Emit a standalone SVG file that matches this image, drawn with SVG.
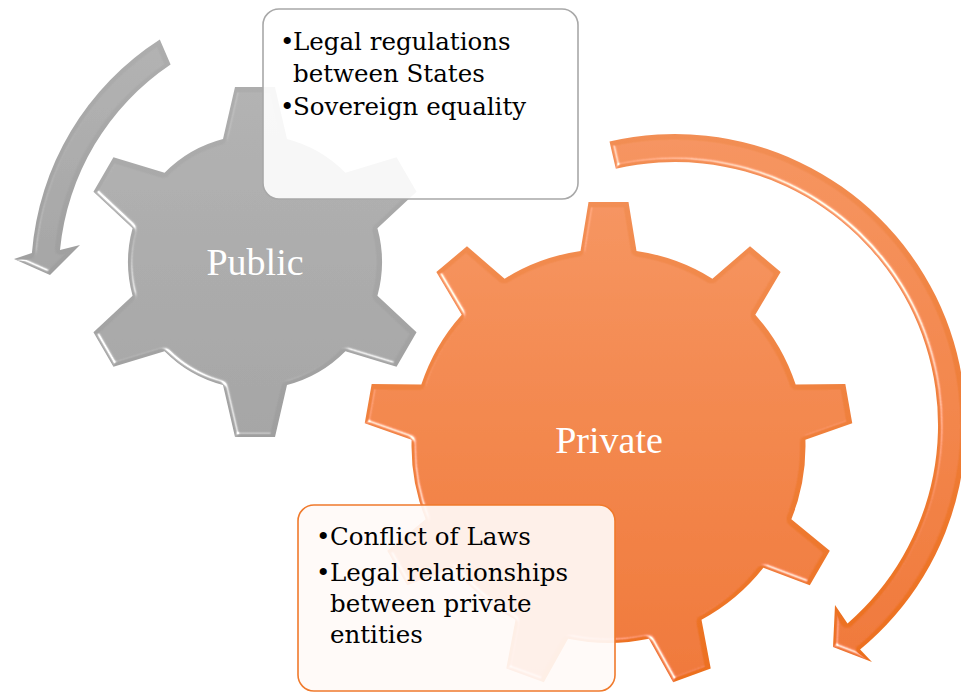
<svg xmlns="http://www.w3.org/2000/svg" width="961" height="693" viewBox="0 0 961 693">
  <defs>
    <style>
      .label { font-family: "Liberation Serif", "Times New Roman", serif; font-size: 38px; fill: #ffffff; text-anchor: middle; }
      .bul { font-family: "DejaVu Serif", "Liberation Serif", serif; font-size: 24.5px; fill: #000000; }
      .box-pub { fill: #ffffff; fill-opacity: 0.9; stroke: #a8a8a8; stroke-width: 1.6; }
      .box-priv { fill: #fffaf7; fill-opacity: 0.92; stroke: #f07a2c; stroke-width: 1.6; }
    </style>
    <linearGradient id="gGray" x1="0" y1="0" x2="0" y2="1">
      <stop offset="0" stop-color="#adadad"/>
      <stop offset="1" stop-color="#9f9f9f"/>
    </linearGradient>
    <linearGradient id="gOrange" x1="0" y1="0" x2="0" y2="1">
      <stop offset="0" stop-color="#f28e54"/>
      <stop offset="1" stop-color="#ec6f1e"/>
    </linearGradient>
    <filter id="bevel" x="-5%" y="-5%" width="110%" height="110%">
      <feGaussianBlur in="SourceAlpha" stdDeviation="2.2" result="blur"/>
      <feSpecularLighting in="blur" surfaceScale="4" specularConstant="1.1" specularExponent="28" lighting-color="#ffffff" result="spec">
        <feDistantLight azimuth="135" elevation="35"/>
      </feSpecularLighting>
      <feComposite in="spec" in2="SourceAlpha" operator="in" result="specIn"/>
      <feComposite in="SourceGraphic" in2="specIn" operator="arithmetic" k1="0" k2="1" k3="0.85" k4="0"/>
    </filter>
  </defs>

  <g id="gear-public">
    <path filter="url(#bevel)" fill="url(#gGray)" d="M223,139.1 L235,87 L275,87 L287,139.1 A127,127 0 0 1 345.43,172.84 L396.55,157.18 L416.55,191.82 L377.43,228.26 A127,127 0 0 1 377.43,295.74 L416.55,332.18 L396.55,366.82 L345.43,351.16 A127,127 0 0 1 287,384.9 L275,437 L235,437 L223,384.9 A127,127 0 0 1 164.57,351.16 L113.45,366.82 L93.45,332.18 L132.57,295.74 A127,127 0 0 1 132.57,228.26 L93.45,191.82 L113.45,157.18 L164.57,172.84 A127,127 0 0 1 223,139.1 Z"/>
    <text class="label" x="255" y="275">Public</text>
  </g>

  <g id="gear-private">
    <path filter="url(#bevel)" fill="url(#gOrange)" d="M580.5,251 L588.5,202 L628.5,202 L636.5,251 A197,197 0 0 1 712.4,278.63 L750.02,246.24 L780.66,271.96 L755.3,314.63 A197,197 0 0 1 795.68,384.58 L845.32,383.94 L852.26,423.34 L805.4,439.72 A197,197 0 0 1 791.37,519.25 L829.8,550.68 L809.8,585.32 L763.37,567.75 A197,197 0 0 1 701.5,619.66 L710.74,668.45 L673.16,682.13 L648.88,638.82 A197,197 0 0 1 568.12,638.82 L543.84,682.13 L506.26,668.45 L515.5,619.66 A197,197 0 0 1 453.63,567.75 L407.2,585.32 L387.2,550.68 L425.63,519.25 A197,197 0 0 1 411.6,439.72 L364.74,423.34 L371.68,383.94 L421.32,384.58 A197,197 0 0 1 461.7,314.63 L436.34,271.96 L466.98,246.24 L504.6,278.63 A197,197 0 0 1 580.5,251 Z"/>
    <text class="label" x="609" y="453">Private</text>
  </g>

  <g id="connectors">
    <path id="arrow-public" filter="url(#bevel)" fill="url(#gGray)" d="M159.8,39.5 A280,280 0 0 0 31.9,253 L14,259 L50,275 L80,245 L60,250 A253,253 0 0 1 170.6,64.5 Z"/>
    <path id="arrow-private" filter="url(#bevel)" fill="url(#gOrange)" d="M609.5,141.5 A291,291 0 0 1 860.1,649.5 L872,662 L833,647 L835,605 L847.5,623.5 A263,263 0 0 0 615.8,168.7 Z"/>
  </g>

  <g id="box-public">
    <rect class="box-pub" x="263" y="9" width="315" height="190" rx="16" ry="16"/>
    <text class="bul"><tspan x="280" y="50">•</tspan><tspan x="293" y="50">Legal regulations</tspan></text>
    <text class="bul" x="293" y="82">between States</text>
    <text class="bul"><tspan x="280" y="115">•</tspan><tspan x="293" y="115">Sovereign equality</tspan></text>
  </g>

  <g id="box-private">
    <rect class="box-priv" x="298" y="505" width="317" height="186" rx="16" ry="16"/>
    <text class="bul"><tspan x="316" y="545">•</tspan><tspan x="330" y="545">Conflict of Laws</tspan></text>
    <text class="bul"><tspan x="316" y="581">•</tspan><tspan x="330" y="581">Legal relationships</tspan></text>
    <text class="bul" x="330" y="612">between private</text>
    <text class="bul" x="330" y="643">entities</text>
  </g>
</svg>
